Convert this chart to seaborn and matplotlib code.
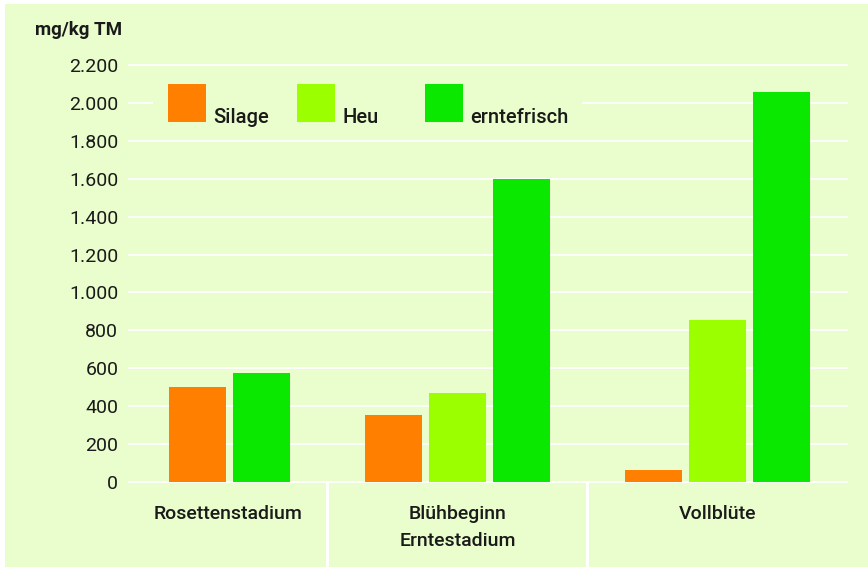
import matplotlib
matplotlib.use("Agg")
import matplotlib.pyplot as plt
import matplotlib.transforms as mtrans
from matplotlib.patches import Rectangle
from matplotlib.ticker import FuncFormatter, MultipleLocator
import seaborn as sns
import pandas as pd

# ---- data ----
stages = ["Rosettenstadium", "Blühbeginn\nErntestadium", "Vollblüte"]
types = ["Silage", "Heu", "erntefrisch"]
silage = [500, 355, 65]
heu = [None, 470, 855]
erntefrisch = [575, 1600, 2060]
y_ticks = list(range(0, 2201, 200))
unit_label = "mg/kg TM"

colors = {"Silage": "#FF8000", "Heu": "#9CFF00", "erntefrisch": "#0AE800"}
bg = "#EAFDCC"

rows = []
for i, s in enumerate(stages):
    for t, vals in zip(types, [silage, heu, erntefrisch]):
        if vals[i] is not None:
            rows.append({"stage": s, "type": t, "value": vals[i]})
df = pd.DataFrame(rows)

sns.set_theme(style="white")
plt.rcParams["font.family"] = ["Roboto", "DejaVu Sans"]

W, H = 868, 568
fig = plt.figure(figsize=(W / 100, H / 100), dpi=100, facecolor="white")
bgax = fig.add_axes([0, 0, 1, 1], zorder=-5)
bgax.set_axis_off()
bgax.set_xlim(0, 1)
bgax.set_ylim(0, 1)
bgax.add_patch(Rectangle((5 / W, 1 / H), 1 - 5 / W, (567 - 4) / H,
                         transform=bgax.transAxes, facecolor=bg,
                         edgecolor="none"))

ax_left, ax_right = 128, 848
ax_top, ax_bot = 63, 484
ax = fig.add_axes([ax_left / W, (H - ax_bot) / H, (ax_right - ax_left) / W,
                   (ax_bot - ax_top) / H], zorder=1)
ax.set_facecolor("none")

# groups with all three types
main = df[df["stage"] != stages[0]]
sns.barplot(data=main, x="stage", y="value", hue="type", order=stages,
            hue_order=types, palette=colors, width=0.738, gap=0.11,
            saturation=1, errorbar=None, legend=False, ax=ax, zorder=3,
            linewidth=0, edgecolor="none")
# first group (no hay value): bars occupy the last two slots
first = df[df["stage"] == stages[0]]
pal1 = dict(colors)
pal1[" "] = bg
sns.barplot(data=first, x="stage", y="value", hue="type", order=stages,
            hue_order=[" ", "Silage", "erntefrisch"], palette=pal1,
            width=0.738, gap=0.11, saturation=1, errorbar=None,
            legend=False, ax=ax, zorder=3, linewidth=0, edgecolor="none")

ax.set_xlim(-0.2673, 2.502)
ax.set_ylim(-10.5, 2210.5)
ax.yaxis.set_major_locator(MultipleLocator(200))
ax.yaxis.set_major_formatter(FuncFormatter(lambda v, p: f"{int(round(v)):,}".replace(",", ".")))
ax.set_yticks(y_ticks)
ax.grid(axis="y", color="white", linewidth=1.3, zorder=1)
ax.set_axisbelow(True)
for sp in ax.spines.values():
    sp.set_visible(False)
ax.tick_params(axis="y", length=0, pad=7, labelsize=14, labelcolor="#1a1a1a")
ax.set_xticks([])
ax.set_xlabel("")
ax.set_ylabel("")

# unit label
fig.text(122 / W, 1 - 30 / H, unit_label, ha="right", va="center",
         fontsize=13.5, fontweight="semibold", color="#1a1a1a")

# group separators and labels below the axis
bt = mtrans.blended_transform_factory(ax.transData, fig.transFigure)
for xs in [0.5, 1.5]:
    ax.plot([xs, xs], [(H - 482) / H, 0], transform=bt, color="white",
            linewidth=2.2, clip_on=False, zorder=2)
label_x = [(-0.2673 + 0.5) / 2, 1, 2]
for x, s in zip(label_x, stages):
    ax.text(x, 1 - 505 / H, s, transform=bt, ha="center", va="top",
            fontsize=14, fontweight="medium", color="#1a1a1a",
            linespacing=1.65)

# legend (manual): background block, squares, labels
def fx(px):
    return (px - ax_left) / (ax_right - ax_left)

def fy(py):
    return (ax_bot - py) / (ax_bot - ax_top)

ax.add_patch(Rectangle((fx(153), fy(135)), fx(582) - fx(153), fy(75) - fy(135),
                       transform=ax.transAxes, facecolor=bg, edgecolor="none",
                       zorder=2))
for t, sx in zip(types, [168, 297, 425]):
    ax.add_patch(Rectangle((fx(sx), fy(122)), fx(sx + 38) - fx(sx), fy(84) - fy(122),
                           transform=ax.transAxes, facecolor=colors[t],
                           edgecolor="none", zorder=4))
    ax.text(fx(sx + 45), fy(123), t, transform=ax.transAxes, ha="left",
            va="baseline", fontsize=14.5, fontweight="medium", color="#1a1a1a",
            zorder=4)

fig.savefig("out.png", dpi=100, facecolor="white")
